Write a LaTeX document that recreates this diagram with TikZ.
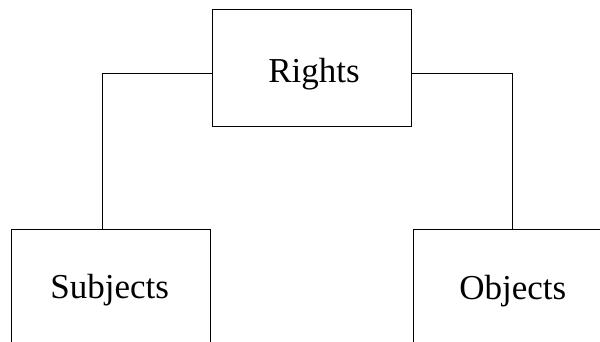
\documentclass[tikz,border=0pt]{standalone}
\usepackage{fontspec}
\setmainfont{Liberation Serif}
\begin{document}
\begin{tikzpicture}[x=1pt,y=-1pt,
  box/.style={draw, line width=0.9pt, minimum width=199pt, minimum height=117pt,
    inner sep=0pt},
  caption/.style={anchor=base, inner sep=0pt, font=\fontsize{35}{42}\selectfont},
  link/.style={line width=0.9pt}]
  \useasboundingbox (0,0) rectangle (600,341);
  \clip (0,0) rectangle (600,341);
  % boxes
  \node[box] (Rights) at (312.2,68.3) {};
  \node[box] (Subjects) at (111.2,287.5) {};
  \node[box] (Objects) at (512.7,287.5) {};
  % captions
  \node[caption] (tR) at (314,82.7) {Rights};
  \node[caption] (tS) at (109.7,298.3) {Subjects};
  \node[caption] (tO) at (512.8,299.3) {Objects};
  % connectors
  \coordinate (lj) at (102.3,73.3);
  \coordinate (rj) at (512.7,73.3);
  \draw[link] (Rights.west |- lj) -| (Subjects.north -| lj);
  \draw[link] (Rights.east |- rj) -| (Objects.north -| rj);
\end{tikzpicture}
\end{document}
